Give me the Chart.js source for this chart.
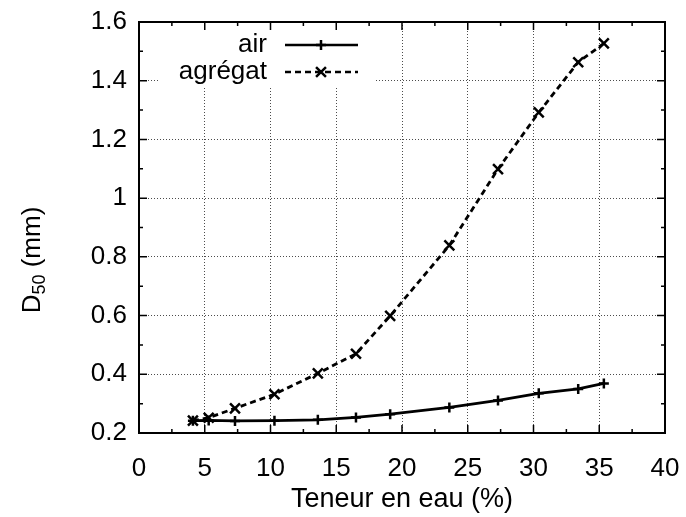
<!DOCTYPE html>
<html>
<head>
<meta charset="utf-8">
<script src="https://cdn.jsdelivr.net/npm/chart.js@4.4.0/dist/chart.umd.min.js"></script>
<style>
  html, body { margin: 0; padding: 0; background: #fff; }
</style>
</head>
<body>
<canvas id="d50" width="686" height="517"></canvas>
<script>
// Teneur en eau (%)
var teneur = [4.1, 5.3, 7.3, 10.3, 13.6, 16.5, 19.1, 23.6, 27.3, 30.4, 33.4, 35.35];
// D50 (mm)
var d50Air = [0.242, 0.243, 0.241, 0.242, 0.245, 0.253, 0.264, 0.287, 0.311, 0.335, 0.350, 0.369];
var d50Agregat = [0.242, 0.252, 0.284, 0.332, 0.403, 0.470, 0.599, 0.839, 1.099, 1.292, 1.463, 1.527];

var xTickLabels = ['0', '5', '10', '15', '20', '25', '30', '35', '40'];
var yTickLabels = ['0.2', '0.4', '0.6', '0.8', '1', '1.2', '1.4', '1.6'];

var police = "'Liberation Sans', Arial, Helvetica, sans-serif";

function points(xs, ys) {
    return xs.map(function (x, i) { return { x: x, y: ys[i] }; });
}

// cadre, graduations internes, légende et titre Y (avec indice)
var cadre = {
    id: 'cadre',
    afterDraw: function (chart) {
        var ctx = chart.ctx;
        var a = chart.chartArea;
        var sx = chart.scales.x;
        var sy = chart.scales.y;
        ctx.save();

        // légende
        ctx.fillStyle = '#fff';
        ctx.fillRect(158, a.top + 1, 216, 64);
        var entrees = [
            { texte: 'air', y: 45, dash: [], style: 'cross', r: 5 },
            { texte: 'agrégat', y: 72, dash: [6, 4], style: 'crossRot', r: 7 }
        ];
        ctx.font = '26px ' + police;
        ctx.textAlign = 'right';
        ctx.textBaseline = 'middle';
        entrees.forEach(function (e) {
            ctx.fillStyle = '#000';
            ctx.fillText(e.texte, 267, e.y);
            ctx.strokeStyle = '#000';
            ctx.lineWidth = 2.5;
            ctx.setLineDash(e.dash);
            ctx.beginPath();
            ctx.moveTo(285, e.y);
            ctx.lineTo(358, e.y);
            ctx.stroke();
            ctx.setLineDash([]);
            ctx.lineWidth = 2.5;
            Chart.helpers.drawPoint(ctx, { pointStyle: e.style, radius: e.r, borderWidth: 2.5, rotation: 0 }, 321, e.y);
        });

        // graduations
        ctx.strokeStyle = '#000';
        ctx.lineWidth = 1.5;
        ctx.setLineDash([]);
        ctx.beginPath();
        for (var v = 0; v <= 40; v += 2.5) {
            var px = sx.getPixelForValue(v);
            var lx = (v % 5 === 0) ? 8 : 4;
            ctx.moveTo(px, a.bottom); ctx.lineTo(px, a.bottom - lx);
            ctx.moveTo(px, a.top); ctx.lineTo(px, a.top + lx);
        }
        for (var k = 2; k <= 16; k++) {
            var py = sy.getPixelForValue(k / 10);
            var ly = (k % 2 === 0) ? 8 : 4;
            ctx.moveTo(a.left, py); ctx.lineTo(a.left + ly, py);
            ctx.moveTo(a.right, py); ctx.lineTo(a.right - ly, py);
        }
        ctx.stroke();

        // cadre
        ctx.lineWidth = 2;
        ctx.strokeRect(a.left, a.top, a.right - a.left, a.bottom - a.top);

        // titre Y : D50 (mm)
        ctx.translate(33, 260);
        ctx.rotate(-Math.PI / 2);
        ctx.fillStyle = '#000';
        ctx.textAlign = 'left';
        ctx.textBaseline = 'middle';
        var fNorm = '26px ' + police, fInd = '18px ' + police;
        ctx.font = fNorm;
        var wD = ctx.measureText('D').width;
        var wRest = ctx.measureText(' (mm)').width;
        ctx.font = fInd;
        var wInd = ctx.measureText('50').width;
        var x0 = -(wD + wInd + wRest) / 2;
        ctx.font = fNorm;
        ctx.fillText('D', x0, 0);
        ctx.font = fInd;
        ctx.fillText('50', x0 + wD, 7);
        ctx.font = fNorm;
        ctx.fillText(' (mm)', x0 + wD + wInd, 0);

        ctx.restore();
    }
};

var ctx = document.getElementById('d50').getContext('2d');
var graphe = new Chart(ctx, {
    type: 'line',
    data: {
        datasets: [{
            label: 'air',
            data: points(teneur, d50Air),
            borderColor: '#000',
            backgroundColor: '#000',
            borderWidth: 2.8,
            pointStyle: 'cross',
            pointRadius: 5,
            pointBorderWidth: 2.5,
            tension: 0,
            fill: false
        }, {
            label: 'agrégat',
            data: points(teneur, d50Agregat),
            borderColor: '#000',
            backgroundColor: '#000',
            borderWidth: 2.8,
            borderDash: [6, 4],
            pointStyle: 'crossRot',
            pointRadius: 7,
            pointBorderWidth: 2.5,
            tension: 0,
            fill: false
        }]
    },
    options: {
        responsive: false,
        animation: false,
        devicePixelRatio: 1,
        layout: { padding: { top: 22, right: 21, left: 0, bottom: 0 } },
        plugins: {
            legend: { display: false },
            tooltip: { enabled: false }
        },
        scales: {
            x: {
                type: 'linear',
                min: 0,
                max: 40,
                afterFit: function (s) { s.height = 84; s.paddingLeft = 0; s.paddingRight = 0; },
                ticks: {
                    stepSize: 5,
                    padding: 20,
                    color: '#000',
                    font: { size: 26, family: police },
                    maxRotation: 0,
                    callback: function (value, index) { return xTickLabels[index]; }
                },
                grid: { color: 'rgba(0,0,0,0.7)', lineWidth: 1, drawTicks: false },
                border: { display: false, dash: [1, 2] },
                title: {
                    display: true,
                    text: 'Teneur en eau (%)',
                    color: '#000',
                    font: { size: 27, family: police },
                    padding: { top: 0, bottom: 1 }
                }
            },
            y: {
                type: 'linear',
                min: 0.2,
                max: 1.6,
                afterFit: function (s) { s.width = 139; s.paddingTop = 0; s.paddingBottom = 0; },
                ticks: {
                    stepSize: 0.2,
                    padding: 12,
                    color: '#000',
                    font: { size: 26, family: police },
                    callback: function (value, index) { return yTickLabels[index]; }
                },
                grid: { color: 'rgba(0,0,0,0.7)', lineWidth: 1, drawTicks: false },
                border: { display: false, dash: [1, 2] }
            }
        }
    },
    plugins: [cadre]
});
</script>
</body>
</html>
